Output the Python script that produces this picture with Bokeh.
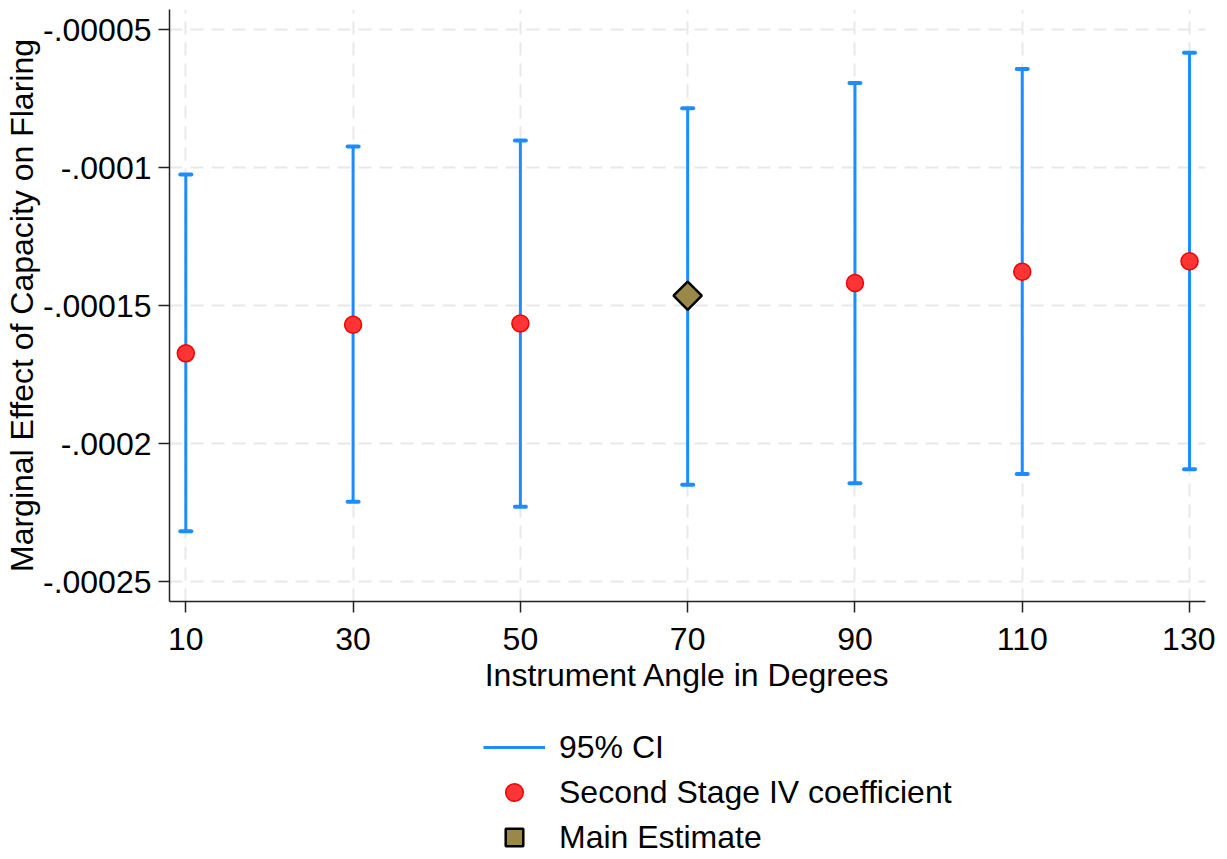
import math
from bokeh.plotting import figure
from bokeh.layouts import column
from bokeh.models import FixedTicker, Range1d, Legend, LegendItem, ColumnDataSource
from bokeh.embed import file_html
from bokeh.resources import INLINE

# ---- data ----
angles = [10, 30, 50, 70, 90, 110, 130]
coef = [-0.0001673, -0.0001569, -0.0001565, -0.0001464, -0.0001418, -0.0001377, -0.0001339]
ci_low = [-0.0002318, -0.0002211, -0.0002229, -0.0002149, -0.0002144, -0.0002110, -0.0002093]
ci_high = [-0.0001025, -0.0000923, -0.0000901, -0.0000784, -0.0000693, -0.0000642, -0.0000583]
main_angle = 70

x_ticks = [10, 30, 50, 70, 90, 110, 130]
y_ticks = [-0.00025, -0.0002, -0.00015, -0.0001, -0.00005]
y_tick_labels = ["-.00025", "-.0002", "-.00015", "-.0001", "-.00005"]

x_title = "Instrument Angle in Degrees"
y_title = "Marginal Effect of Capacity on Flaring"
legend_labels = ["95% CI", "Second Stage IV coefficient", "Main Estimate"]

# ---- sources ----
ci_src = ColumnDataSource(dict(x=angles, lo=ci_low, hi=ci_high))
iv_src = ColumnDataSource(dict(
    x=[a for a in angles if a != main_angle],
    y=[c for a, c in zip(angles, coef) if a != main_angle]))
main_src = ColumnDataSource(dict(
    x=[a for a in angles if a == main_angle],
    y=[c for a, c in zip(angles, coef) if a == main_angle]))

FONT = "Liberation Sans"
BLUE = "#1E8CFF"
CI_STYLE = dict(line_color=BLUE, line_width=3)
IV_STYLE = dict(marker="circle", size=17, fill_color="#FF3434", line_color="#F00000", line_width=1.5)
MAIN_STYLE = dict(marker="square", size=20, angle=math.pi / 4, fill_color="#9A8848",
                  line_color="black", line_width=2.5)

p = figure(width=1215, height=720, output_backend="svg", toolbar_location=None,
           x_range=Range1d(8.05, 131.91), y_range=Range1d(-0.00025725, -0.00004264),
           min_border_left=168, min_border_right=10, min_border_top=9, min_border_bottom=119,
           background_fill_color="white", border_fill_color="white")
p.outline_line_color = None

# CI
p.segment(x0="x", y0="lo", x1="x", y1="hi", source=ci_src, **CI_STYLE)
p.scatter(x="x", y="lo", source=ci_src, marker="dash", size=11,
          line_color=BLUE, line_width=4, line_cap="round")
p.scatter(x="x", y="hi", source=ci_src, marker="dash", size=11,
          line_color=BLUE, line_width=4, line_cap="round")

# points
p.scatter(x="x", y="y", source=iv_src, **IV_STYLE)
p.scatter(x="x", y="y", source=main_src, **MAIN_STYLE)

# axes
p.xaxis.ticker = FixedTicker(ticks=x_ticks, minor_ticks=[])
p.yaxis.ticker = FixedTicker(ticks=y_ticks, minor_ticks=[])
p.yaxis.major_label_overrides = dict(zip(y_ticks, y_tick_labels))
p.xaxis.axis_label = x_title
p.yaxis.axis_label = y_title
for ax in (p.xaxis, p.yaxis):
    ax.axis_label_text_font = FONT
    ax.axis_label_text_font_style = "normal"
    ax.axis_label_text_font_size = "32px"
    ax.axis_label_text_color = "black"
    ax.major_label_text_font = FONT
    ax.major_label_text_font_size = "32px"
    ax.major_label_text_color = "black"
    ax.major_tick_out = 11
    ax.major_tick_in = 0
    ax.minor_tick_out = 0
    ax.minor_tick_in = 0
    ax.axis_line_color = "#222222"
    ax.axis_line_width = 1.5
    ax.major_tick_line_color = "#222222"
    ax.major_tick_line_width = 1.5
p.xaxis.major_label_standoff = 15
p.xaxis.axis_label_standoff = 4
p.yaxis.major_label_standoff = 7
p.yaxis.axis_label_standoff = 0

for g in (p.xgrid, p.ygrid):
    g.grid_line_color = "#E8E8E8"
    g.grid_line_width = 2
    g.grid_line_dash = "13 8"

# ---- legend panel (separate figure below the chart) ----
# the renderers reuse the chart's sources; this figure's ranges keep them off-screen,
# so only their legend swatches are seen
lg = figure(width=1215, height=139, output_backend="svg", toolbar_location=None,
            x_range=Range1d(0, 1), y_range=Range1d(0, 1),
            x_axis_location=None, y_axis_location=None, min_border=0,
            background_fill_color="white", border_fill_color="white")
lg.outline_line_color = None
lg.grid.visible = False
r_ci = lg.segment(x0="x", y0="lo", x1="x", y1="hi", source=ci_src, **CI_STYLE)
r_iv = lg.scatter(x="x", y="y", source=iv_src, **IV_STYLE)
r_main = lg.scatter(x="x", y="y", source=main_src, **MAIN_STYLE)

legend = Legend(items=[
    LegendItem(label=legend_labels[0], renderers=[r_ci]),
    LegendItem(label=legend_labels[1], renderers=[r_iv]),
    LegendItem(label=legend_labels[2], renderers=[r_main]),
], location=(314, 0))
legend.label_text_font = FONT
legend.label_text_font_size = "32px"
legend.label_text_color = "black"
legend.glyph_width = 62
legend.glyph_height = 44
legend.label_height = 41
legend.label_standoff = 14
legend.spacing = 1
legend.padding = 0
legend.margin = 0
legend.border_line_color = None
legend.background_fill_alpha = 0
lg.add_layout(legend, "center")

layout = column(p, lg, spacing=0)
open("out.html", "w").write(file_html(layout, INLINE))
